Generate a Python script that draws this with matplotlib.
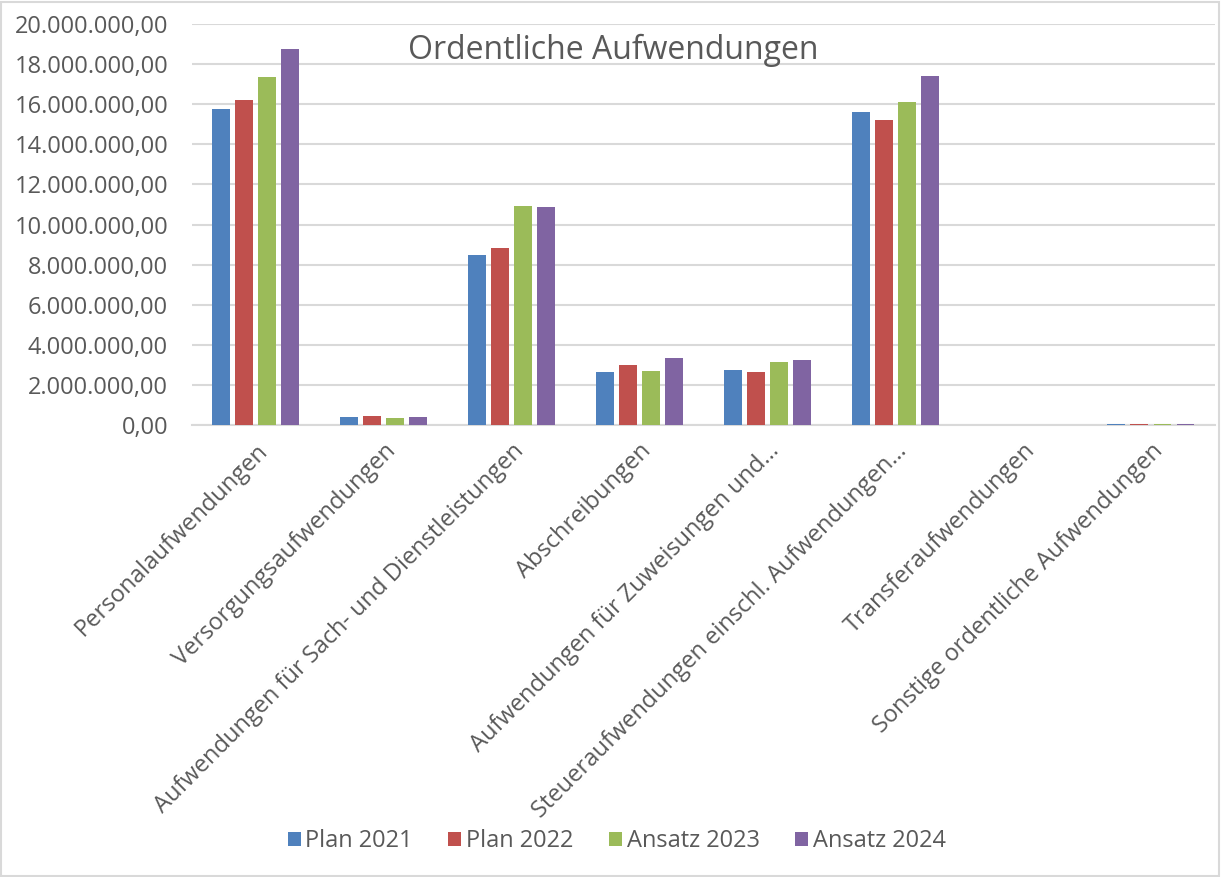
import matplotlib.pyplot as plt
import matplotlib.patches as mpatches
import numpy as np

plt.rcParams['font.family'] = ['Open Sans', 'DejaVu Sans']

# Kategorien und Werte (Euro)
categories = ['Personalaufwendungen', 'Versorgungsaufwendungen',
              'Aufwendungen für Sach- und Dienstleistungen', 'Abschreibungen',
              'Aufwendungen für Zuweisungen und…',
              'Steueraufwendungen einschl. Aufwendungen…',
              'Transferaufwendungen', 'Sonstige ordentliche Aufwendungen']
series_names = ['Plan 2021', 'Plan 2022', 'Ansatz 2023', 'Ansatz 2024']
plan_2021 = [15780000, 410000, 8480000, 2640000, 2740000, 15630000, 0, 40000]
plan_2022 = [16210000, 460000, 8830000, 2990000, 2640000, 15210000, 0, 40000]
ansatz_2023 = [17340000, 360000, 10920000, 2690000, 3140000, 16090000, 0, 40000]
ansatz_2024 = [18740000, 400000, 10870000, 3340000, 3240000, 17410000, 0, 40000]
colors = ['#4f81bd', '#c0504d', '#9bbb59', '#8064a2']

fig = plt.figure(figsize=(12.21, 8.77), dpi=100)
ax = fig.add_axes([0.157, 0.5154, 0.838, 0.4572])

x = np.arange(len(categories))
width = 0.14
step = 0.18
all_series = [plan_2021, plan_2022, ansatz_2023, ansatz_2024]
for i, (vals, name, c) in enumerate(zip(all_series, series_names, colors)):
    ax.bar(x + (i - 1.5) * step, vals, width, color=c, label=name, zorder=3)

ax.set_xlim(-0.5, len(categories) - 0.5)
ax.set_ylim(0, 20000000)
yticks = np.arange(0, 20000001, 2000000)
ax.set_yticks(yticks)
ax.set_yticklabels([f'{v:,.2f}'.replace(',', 'X').replace('.', ',').replace('X', '.')
                    for v in yticks])
ax.yaxis.grid(True, color='#d9d9d9', linewidth=1.5, zorder=0)
for s in ['top', 'right', 'left']:
    ax.spines[s].set_visible(False)
ax.spines['bottom'].set_color('#d9d9d9')
ax.spines['bottom'].set_linewidth(1.5)
ax.tick_params(axis='both', length=0, labelsize=17, colors='#595959')
ax.tick_params(axis='y', pad=17)
ax.set_xticks(x)
ax.set_xticklabels(categories, rotation=45, ha='right', rotation_mode='anchor')
ax.tick_params(axis='x', pad=10)

fig.text(0.502, 0.942, 'Ordentliche Aufwendungen', ha='center', va='center',
         fontsize=23, color='#595959')

fig.legend(loc='center', bbox_to_anchor=(0.505, 0.041), ncol=4, frameon=False,
           fontsize=17, handlelength=0.55, handleheight=0.55, handletextpad=0.2,
           columnspacing=1.5, labelcolor='#595959')

fig.patches.append(mpatches.Rectangle((0.001, 0.001), 0.997, 0.997, transform=fig.transFigure,
                                      fill=False, edgecolor='#d9d9d9', linewidth=1.5))

fig.savefig('out.png', dpi=100)
